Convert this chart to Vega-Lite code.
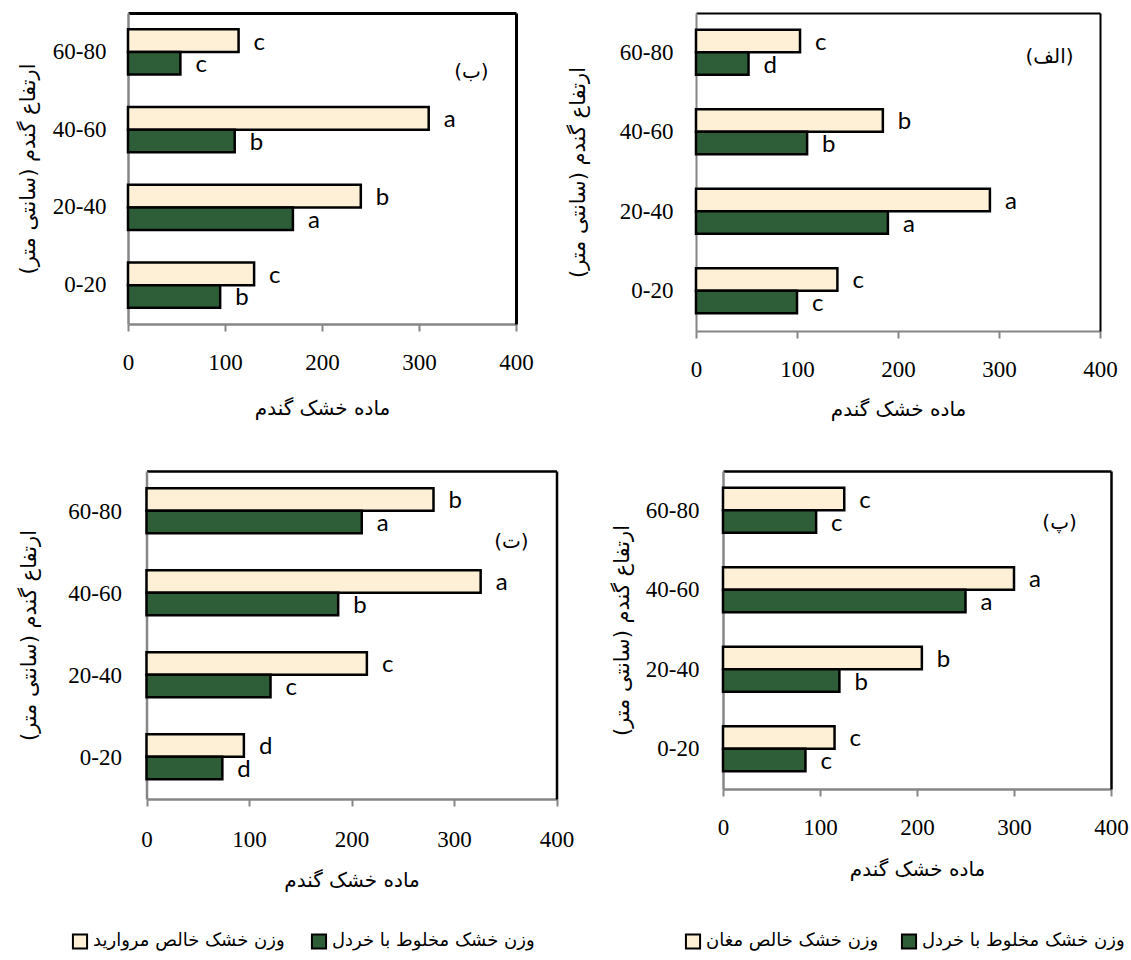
{
  "$schema": "https://vega.github.io/schema/vega-lite/v6.json",
  "padding": {"left": 17, "top": 13, "right": 0, "bottom": 0},
  "background": "white",
  "config": {"view": {"stroke": null}, "axis": {"grid": false}},
  "datasets": {
    "bars": [
      {"panel": "TL", "h": "60-80", "s": "pure", "series": "وزن خشک خالص مروارید", "v": 114, "L": "c"},
      {"panel": "TL", "h": "60-80", "s": "mixed", "series": "وزن خشک مخلوط با خردل", "v": 54, "L": "c"},
      {"panel": "TL", "h": "40-60", "s": "pure", "series": "وزن خشک خالص مروارید", "v": 310, "L": "a"},
      {"panel": "TL", "h": "40-60", "s": "mixed", "series": "وزن خشک مخلوط با خردل", "v": 110, "L": "b"},
      {"panel": "TL", "h": "20-40", "s": "pure", "series": "وزن خشک خالص مروارید", "v": 240, "L": "b"},
      {"panel": "TL", "h": "20-40", "s": "mixed", "series": "وزن خشک مخلوط با خردل", "v": 170, "L": "a"},
      {"panel": "TL", "h": "0-20", "s": "pure", "series": "وزن خشک خالص مروارید", "v": 130, "L": "c"},
      {"panel": "TL", "h": "0-20", "s": "mixed", "series": "وزن خشک مخلوط با خردل", "v": 95, "L": "b"},
      {"panel": "TR", "h": "60-80", "s": "pure", "series": "وزن خشک خالص مغان", "v": 103, "L": "c"},
      {"panel": "TR", "h": "60-80", "s": "mixed", "series": "وزن خشک مخلوط با خردل", "v": 52, "L": "d"},
      {"panel": "TR", "h": "40-60", "s": "pure", "series": "وزن خشک خالص مغان", "v": 185, "L": "b"},
      {"panel": "TR", "h": "40-60", "s": "mixed", "series": "وزن خشک مخلوط با خردل", "v": 110, "L": "b"},
      {"panel": "TR", "h": "20-40", "s": "pure", "series": "وزن خشک خالص مغان", "v": 291, "L": "a"},
      {"panel": "TR", "h": "20-40", "s": "mixed", "series": "وزن خشک مخلوط با خردل", "v": 190, "L": "a"},
      {"panel": "TR", "h": "0-20", "s": "pure", "series": "وزن خشک خالص مغان", "v": 140, "L": "c"},
      {"panel": "TR", "h": "0-20", "s": "mixed", "series": "وزن خشک مخلوط با خردل", "v": 100, "L": "c"},
      {"panel": "BL", "h": "60-80", "s": "pure", "series": "وزن خشک خالص مروارید", "v": 280, "L": "b"},
      {"panel": "BL", "h": "60-80", "s": "mixed", "series": "وزن خشک مخلوط با خردل", "v": 210, "L": "a"},
      {"panel": "BL", "h": "40-60", "s": "pure", "series": "وزن خشک خالص مروارید", "v": 326, "L": "a"},
      {"panel": "BL", "h": "40-60", "s": "mixed", "series": "وزن خشک مخلوط با خردل", "v": 187, "L": "b"},
      {"panel": "BL", "h": "20-40", "s": "pure", "series": "وزن خشک خالص مروارید", "v": 215, "L": "c"},
      {"panel": "BL", "h": "20-40", "s": "mixed", "series": "وزن خشک مخلوط با خردل", "v": 121, "L": "c"},
      {"panel": "BL", "h": "0-20", "s": "pure", "series": "وزن خشک خالص مروارید", "v": 95, "L": "d"},
      {"panel": "BL", "h": "0-20", "s": "mixed", "series": "وزن خشک مخلوط با خردل", "v": 74, "L": "d"},
      {"panel": "BR", "h": "60-80", "s": "pure", "series": "وزن خشک خالص مغان", "v": 125, "L": "c"},
      {"panel": "BR", "h": "60-80", "s": "mixed", "series": "وزن خشک مخلوط با خردل", "v": 96, "L": "c"},
      {"panel": "BR", "h": "40-60", "s": "pure", "series": "وزن خشک خالص مغان", "v": 300, "L": "a"},
      {"panel": "BR", "h": "40-60", "s": "mixed", "series": "وزن خشک مخلوط با خردل", "v": 250, "L": "a"},
      {"panel": "BR", "h": "20-40", "s": "pure", "series": "وزن خشک خالص مغان", "v": 205, "L": "b"},
      {"panel": "BR", "h": "20-40", "s": "mixed", "series": "وزن خشک مخلوط با خردل", "v": 120, "L": "b"},
      {"panel": "BR", "h": "0-20", "s": "pure", "series": "وزن خشک خالص مغان", "v": 115, "L": "c"},
      {"panel": "BR", "h": "0-20", "s": "mixed", "series": "وزن خشک مخلوط با خردل", "v": 85, "L": "c"}
    ],
    "tags": [
      {"panel": "TL", "tag": "(ب)", "v": 354, "h": "60-80"},
      {"panel": "TR", "tag": "(الف)", "v": 350, "h": "60-80"},
      {"panel": "BL", "tag": "(ت)", "v": 356, "h": "60-80"},
      {"panel": "BR", "tag": "(پ)", "v": 347, "h": "60-80"}
    ]
  },
  "resolve": {"scale": {"color": "independent"}, "legend": {"color": "independent"}},
  "spacing": 52,
  "vconcat": [
    {
      "spacing": 33,
      "resolve": {"scale": {"color": "independent"}, "legend": {"color": "independent"}},
      "hconcat": [
        {
          "width": 388, "height": 311,
          "resolve": {"axis": {"x": "independent", "y": "independent"}},
          "layer": [
            {
              "data": {"name": "bars"},
              "transform": [{"filter": "datum.panel === 'TL'"}],
              "mark": {"type": "bar", "stroke": "black", "strokeWidth": 2.5},
              "encoding": {
                "y": {"field": "h", "type": "nominal", "sort": ["60-80", "40-60", "20-40", "0-20"], "scale": {"paddingInner": 0.42, "paddingOuter": 0.21},
                  "axis": {"title": "ارتفاع گندم (سانتی متر)", "titleFont": "DejaVu Sans", "titleFontSize": 21, "titleFontWeight": "normal", "titleColor": "black", "titlePadding": 14, "labelFont": "Liberation Serif", "labelFontSize": 23, "labelColor": "black", "labelPadding": 22, "ticks": false, "domainColor": "#868686", "domainWidth": 2.5}},
                "yOffset": {"field": "s", "type": "nominal", "sort": ["pure", "mixed"], "scale": {"paddingInner": 0, "paddingOuter": 0}},
                "x": {"field": "v", "type": "quantitative", "scale": {"domain": [0, 400], "nice": false},
                  "axis": {"values": [0, 100, 200, 300, 400], "title": "ماده خشک گندم", "titleFont": "DejaVu Sans", "titleFontSize": 20, "titleFontWeight": "normal", "titleColor": "black", "titlePadding": 24, "labelFont": "Liberation Serif", "labelFontSize": 23, "labelColor": "black", "labelFlush": false, "labelPadding": 20, "tickColor": "#868686", "tickSize": 7, "tickWidth": 2, "domainColor": "#868686", "domainWidth": 2.5}},
                "color": {"field": "series", "type": "nominal", "scale": {"domain": ["وزن خشک خالص مروارید", "وزن خشک مخلوط با خردل"], "range": ["#FDF0D6", "#2E5E38"]}, "legend": null}
              }
            },
            {
              "data": {"name": "bars"},
              "transform": [{"filter": "datum.panel === 'TL'"}],
              "mark": {"type": "text", "align": "left", "baseline": "middle", "dx": 15, "dy": 2, "font": "Lato", "fontSize": 24, "color": "black"},
              "encoding": {
                "y": {"field": "h", "type": "nominal", "sort": ["60-80", "40-60", "20-40", "0-20"], "axis": {"orient": "right", "labels": false, "ticks": false, "title": null, "domainColor": "black", "domainWidth": 3}},
                "yOffset": {"field": "s", "type": "nominal", "sort": ["pure", "mixed"]},
                "x": {"field": "v", "type": "quantitative", "axis": {"orient": "top", "labels": false, "ticks": false, "title": null, "domainColor": "black", "domainWidth": 3}},
                "text": {"field": "L"}
              }
            },
            {
              "data": {"name": "tags"},
              "transform": [{"filter": "datum.panel === 'TL'"}],
              "mark": {"type": "text", "align": "center", "baseline": "middle", "dy": 20, "font": "DejaVu Sans", "fontSize": 20, "color": "black"},
              "encoding": {
                "y": {"field": "h", "type": "nominal", "sort": ["60-80", "40-60", "20-40", "0-20"], "axis": null},
                "x": {"field": "v", "type": "quantitative", "axis": null},
                "text": {"field": "tag"}
              }
            }
          ]
        },
        {
          "width": 404, "height": 318,
          "resolve": {"axis": {"x": "independent", "y": "independent"}},
          "layer": [
            {
              "data": {"name": "bars"},
              "transform": [{"filter": "datum.panel === 'TR'"}],
              "mark": {"type": "bar", "stroke": "black", "strokeWidth": 2.5},
              "encoding": {
                "y": {"field": "h", "type": "nominal", "sort": ["60-80", "40-60", "20-40", "0-20"], "scale": {"paddingInner": 0.42, "paddingOuter": 0.21},
                  "axis": {"title": "ارتفاع گندم (سانتی متر)", "titleFont": "DejaVu Sans", "titleFontSize": 21, "titleFontWeight": "normal", "titleColor": "black", "titlePadding": 31, "labelFont": "Liberation Serif", "labelFontSize": 23, "labelColor": "black", "labelPadding": 23, "ticks": false, "domainColor": "#868686", "domainWidth": 2}},
                "yOffset": {"field": "s", "type": "nominal", "sort": ["pure", "mixed"], "scale": {"paddingInner": 0, "paddingOuter": 0}},
                "x": {"field": "v", "type": "quantitative", "scale": {"domain": [0, 400], "nice": false},
                  "axis": {"values": [0, 100, 200, 300, 400], "title": "ماده  خشک گندم", "titleFont": "DejaVu Sans", "titleFontSize": 20, "titleFontWeight": "normal", "titleColor": "black", "titlePadding": 18, "labelFont": "Liberation Serif", "labelFontSize": 23, "labelColor": "black", "labelFlush": false, "labelPadding": 20, "tickColor": "#868686", "tickSize": 7, "tickWidth": 2, "domainColor": "#868686", "domainWidth": 2}},
                "color": {"field": "series", "type": "nominal", "scale": {"domain": ["وزن خشک خالص مغان", "وزن خشک مخلوط با خردل"], "range": ["#FDF0D6", "#2E5E38"]}, "legend": null}
              }
            },
            {
              "data": {"name": "bars"},
              "transform": [{"filter": "datum.panel === 'TR'"}],
              "mark": {"type": "text", "align": "left", "baseline": "middle", "dx": 15, "dy": 2, "font": "Lato", "fontSize": 24, "color": "black"},
              "encoding": {
                "y": {"field": "h", "type": "nominal", "sort": ["60-80", "40-60", "20-40", "0-20"], "axis": {"orient": "right", "labels": false, "ticks": false, "title": null, "domainColor": "black", "domainWidth": 2}},
                "yOffset": {"field": "s", "type": "nominal", "sort": ["pure", "mixed"]},
                "x": {"field": "v", "type": "quantitative", "axis": {"orient": "top", "labels": false, "ticks": false, "title": null, "domainColor": "black", "domainWidth": 2}},
                "text": {"field": "L"}
              }
            },
            {
              "data": {"name": "tags"},
              "transform": [{"filter": "datum.panel === 'TR'"}],
              "mark": {"type": "text", "align": "center", "baseline": "middle", "dy": 4, "font": "DejaVu Sans", "fontSize": 20, "color": "black"},
              "encoding": {
                "y": {"field": "h", "type": "nominal", "sort": ["60-80", "40-60", "20-40", "0-20"], "axis": null},
                "x": {"field": "v", "type": "quantitative", "axis": null},
                "text": {"field": "tag"}
              }
            }
          ]
        }
      ]
    },
    {
      "spacing": 37,
      "resolve": {"scale": {"color": "independent"}, "legend": {"color": "independent"}},
      "hconcat": [
        {
          "width": 428.5, "height": 328,
          "resolve": {"axis": {"x": "independent", "y": "independent"}},
          "layer": [
            {
              "data": {"name": "bars"},
              "transform": [{"filter": "datum.panel === 'BL'"}],
              "mark": {"type": "bar", "stroke": "black", "strokeWidth": 2.5},
              "encoding": {
                "y": {"field": "h", "type": "nominal", "sort": ["60-80", "40-60", "20-40", "0-20"], "scale": {"paddingInner": 0.42, "paddingOuter": 0.21},
                  "axis": {"offset": -18.5, "title": "ارتفاع گندم (سانتی متر)", "titleFont": "DejaVu Sans", "titleFontSize": 21, "titleFontWeight": "normal", "titleColor": "black", "titlePadding": 28, "labelFont": "Liberation Serif", "labelFontSize": 23, "labelColor": "black", "labelPadding": 25, "ticks": false, "domainColor": "#868686", "domainWidth": 2.5}},
                "yOffset": {"field": "s", "type": "nominal", "sort": ["pure", "mixed"], "scale": {"paddingInner": 0, "paddingOuter": 0}},
                "x": {"field": "v", "type": "quantitative", "scale": {"domain": [0, 400], "nice": false, "range": [18.5, 428.5]},
                  "axis": {"values": [0, 100, 200, 300, 400], "title": "ماده خشک گندم", "titleFont": "DejaVu Sans", "titleFontSize": 20, "titleFontWeight": "normal", "titleColor": "black", "titlePadding": 19, "labelFont": "Liberation Serif", "labelFontSize": 23, "labelColor": "black", "labelFlush": false, "labelPadding": 22, "tickColor": "#868686", "tickSize": 7, "tickWidth": 2, "domainColor": "#868686", "domainWidth": 2.5}},
                "color": {"field": "series", "type": "nominal", "scale": {"domain": ["وزن خشک خالص مروارید", "وزن خشک مخلوط با خردل"], "range": ["#FDF0D6", "#2E5E38"]},
                  "legend": {"orient": "none", "legendX": -57, "legendY": 461, "direction": "horizontal", "title": null, "symbolType": "square", "symbolSize": 200, "symbolStrokeColor": "black", "symbolStrokeWidth": 2, "labelFont": "DejaVu Sans", "labelFontSize": 18, "labelColor": "black", "labelLimit": 400, "labelOffset": 4, "columnPadding": 22}}
              }
            },
            {
              "data": {"name": "bars"},
              "transform": [{"filter": "datum.panel === 'BL'"}],
              "mark": {"type": "text", "align": "left", "baseline": "middle", "dx": 15, "dy": 2, "font": "Lato", "fontSize": 24, "color": "black"},
              "encoding": {
                "y": {"field": "h", "type": "nominal", "sort": ["60-80", "40-60", "20-40", "0-20"], "axis": {"orient": "right", "labels": false, "ticks": false, "title": null, "domainColor": "black", "domainWidth": 2.5}},
                "yOffset": {"field": "s", "type": "nominal", "sort": ["pure", "mixed"]},
                "x": {"field": "v", "type": "quantitative", "axis": {"orient": "top", "labels": false, "ticks": false, "title": null, "domainColor": "black", "domainWidth": 2.5}},
                "text": {"field": "L"}
              }
            },
            {
              "data": {"name": "tags"},
              "transform": [{"filter": "datum.panel === 'BL'"}],
              "mark": {"type": "text", "align": "center", "baseline": "middle", "dy": 30, "font": "DejaVu Sans", "fontSize": 20, "color": "black"},
              "encoding": {
                "y": {"field": "h", "type": "nominal", "sort": ["60-80", "40-60", "20-40", "0-20"], "axis": null},
                "x": {"field": "v", "type": "quantitative", "axis": null},
                "text": {"field": "tag"}
              }
            }
          ]
        },
        {
          "width": 388, "height": 318,
          "resolve": {"axis": {"x": "independent", "y": "independent"}},
          "layer": [
            {
              "data": {"name": "bars"},
              "transform": [{"filter": "datum.panel === 'BR'"}],
              "mark": {"type": "bar", "stroke": "black", "strokeWidth": 2.5},
              "encoding": {
                "y": {"field": "h", "type": "nominal", "sort": ["60-80", "40-60", "20-40", "0-20"], "scale": {"paddingInner": 0.42, "paddingOuter": 0.21},
                  "axis": {"title": "ارتفاع گندم (سانتی متر)", "titleFont": "DejaVu Sans", "titleFontSize": 21, "titleFontWeight": "normal", "titleColor": "black", "titlePadding": 13, "labelFont": "Liberation Serif", "labelFontSize": 23, "labelColor": "black", "labelPadding": 24, "ticks": false, "domainColor": "#868686", "domainWidth": 2.5}},
                "yOffset": {"field": "s", "type": "nominal", "sort": ["pure", "mixed"], "scale": {"paddingInner": 0, "paddingOuter": 0}},
                "x": {"field": "v", "type": "quantitative", "scale": {"domain": [0, 400], "nice": false},
                  "axis": {"values": [0, 100, 200, 300, 400], "title": "ماده خشک گندم", "titleFont": "DejaVu Sans", "titleFontSize": 20, "titleFontWeight": "normal", "titleColor": "black", "titlePadding": 20, "labelFont": "Liberation Serif", "labelFontSize": 23, "labelColor": "black", "labelFlush": false, "labelPadding": 20, "tickColor": "#868686", "tickSize": 7, "tickWidth": 2, "domainColor": "#868686", "domainWidth": 2.5}},
                "color": {"field": "series", "type": "nominal", "scale": {"domain": ["وزن خشک خالص مغان", "وزن خشک مخلوط با خردل"], "range": ["#FDF0D6", "#2E5E38"]},
                  "legend": {"orient": "none", "legendX": -39, "legendY": 461, "direction": "horizontal", "title": null, "symbolType": "square", "symbolSize": 200, "symbolStrokeColor": "black", "symbolStrokeWidth": 2, "labelFont": "DejaVu Sans", "labelFontSize": 18, "labelColor": "black", "labelLimit": 400, "labelOffset": 4, "columnPadding": 18}}
              }
            },
            {
              "data": {"name": "bars"},
              "transform": [{"filter": "datum.panel === 'BR'"}],
              "mark": {"type": "text", "align": "left", "baseline": "middle", "dx": 15, "dy": 2, "font": "Lato", "fontSize": 24, "color": "black"},
              "encoding": {
                "y": {"field": "h", "type": "nominal", "sort": ["60-80", "40-60", "20-40", "0-20"], "axis": {"orient": "right", "labels": false, "ticks": false, "title": null, "domainColor": "black", "domainWidth": 2.5}},
                "yOffset": {"field": "s", "type": "nominal", "sort": ["pure", "mixed"]},
                "x": {"field": "v", "type": "quantitative", "axis": {"orient": "top", "labels": false, "ticks": false, "title": null, "domainColor": "black", "domainWidth": 2.5}},
                "text": {"field": "L"}
              }
            },
            {
              "data": {"name": "tags"},
              "transform": [{"filter": "datum.panel === 'BR'"}],
              "mark": {"type": "text", "align": "center", "baseline": "middle", "dy": 12, "font": "DejaVu Sans", "fontSize": 20, "color": "black"},
              "encoding": {
                "y": {"field": "h", "type": "nominal", "sort": ["60-80", "40-60", "20-40", "0-20"], "axis": null},
                "x": {"field": "v", "type": "quantitative", "axis": null},
                "text": {"field": "tag"}
              }
            }
          ]
        }
      ]
    }
  ]
}
